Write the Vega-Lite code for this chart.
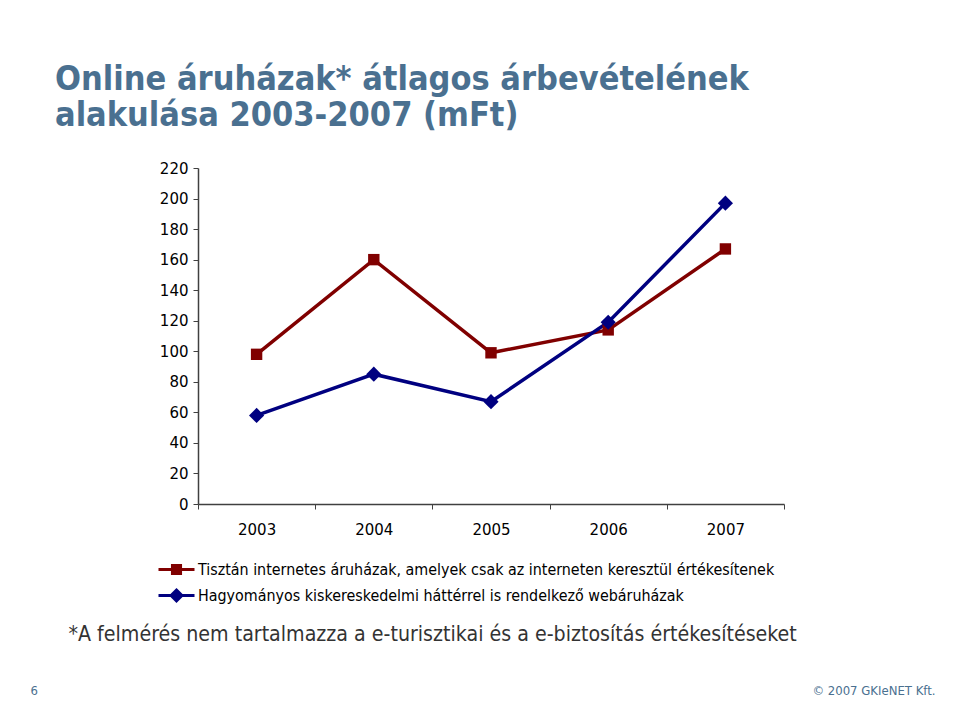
{
  "$schema": "https://vega.github.io/schema/vega-lite/v6.json",
  "autosize": {"type": "none"},
  "width": 586,
  "height": 336,
  "padding": {"left": 198, "top": 168, "right": 176, "bottom": 212},
  "background": "white",
  "title": {
    "text": ["Online áruházak* átlagos árbevételének", "alakulása 2003-2007 (mFt)"],
    "anchor": "start",
    "frame": "group",
    "font": "DejaVu Sans Condensed",
    "fontSize": 34,
    "fontWeight": "bold",
    "color": "#4a7090",
    "lineHeight": 36,
    "dx": -143,
    "offset": 28
  },
  "data": {
    "values": [
      {"year": "2003", "series": "Tisztán internetes áruházak, amelyek csak az interneten keresztül értékesítenek", "value": 98},
      {"year": "2004", "series": "Tisztán internetes áruházak, amelyek csak az interneten keresztül értékesítenek", "value": 160},
      {"year": "2005", "series": "Tisztán internetes áruházak, amelyek csak az interneten keresztül értékesítenek", "value": 99},
      {"year": "2006", "series": "Tisztán internetes áruházak, amelyek csak az interneten keresztül értékesítenek", "value": 114},
      {"year": "2007", "series": "Tisztán internetes áruházak, amelyek csak az interneten keresztül értékesítenek", "value": 167},
      {"year": "2003", "series": "Hagyományos kiskereskedelmi háttérrel is rendelkező webáruházak", "value": 58},
      {"year": "2004", "series": "Hagyományos kiskereskedelmi háttérrel is rendelkező webáruházak", "value": 85},
      {"year": "2005", "series": "Hagyományos kiskereskedelmi háttérrel is rendelkező webáruházak", "value": 67},
      {"year": "2006", "series": "Hagyományos kiskereskedelmi háttérrel is rendelkező webáruházak", "value": 119},
      {"year": "2007", "series": "Hagyományos kiskereskedelmi háttérrel is rendelkező webáruházak", "value": 197}
    ]
  },
  "encoding": {
    "y": {
      "field": "value", "type": "quantitative",
      "scale": {"domain": [0, 220], "nice": false},
      "axis": {
        "values": [0, 20, 40, 60, 80, 100, 120, 140, 160, 180, 200, 220],
        "labelOverlap": false,
        "labelFlush": false,
        "labelBound": false,
        "tickSize": 5,
        "labelPadding": 5,
        "labelFont": "DejaVu Sans",
        "labelFontSize": 15,
        "labelColor": "#000000",
        "domainColor": "#404040",
        "tickColor": "#404040",
        "domainWidth": 1.5,
        "grid": false,
        "title": "6",
        "titleAngle": 0,
        "titleAnchor": "start",
        "titleAlign": "left",
        "titleBaseline": "middle",
        "titleX": -168,
        "titleY": 522,
        "titleFont": "DejaVu Sans Condensed",
        "titleFontSize": 13,
        "titleFontWeight": "normal",
        "titleColor": "#4a7090"
      }
    },
    "color": {
      "field": "series", "type": "nominal",
      "scale": {
        "domain": ["Tisztán internetes áruházak, amelyek csak az interneten keresztül értékesítenek", "Hagyományos kiskereskedelmi háttérrel is rendelkező webáruházak"],
        "range": ["#800000", "#000080"]
      },
      "legend": {
        "orient": "none",
        "legendX": -32,
        "legendY": 391,
        "title": null,
        "symbolSize": 324,
        "labelFont": "DejaVu Sans Condensed",
        "labelFontSize": 15.9,
        "labelColor": "#000000",
        "labelLimit": 1000,
        "labelOffset": 11,
        "rowPadding": 4,
        "encode": {
          "symbols": {
            "update": {
              "shape": {"signal": "indexof(datum.value, 'Hagy') === 0 ? 'M-2,0H2M0,-0.6L0.6,0L0,0.6L-0.6,0Z' : 'M-2,0H2M-0.45,-0.45H0.45V0.45H-0.45Z'"},
              "fill": {"signal": "scale('color', datum.value)"},
              "stroke": {"signal": "scale('color', datum.value)"},
              "strokeWidth": {"value": 3},
              "opacity": {"value": 1}
            }
          }
        }
      }
    }
  },
  "layer": [
    {
      "mark": {"type": "line", "strokeWidth": 3.5},
      "encoding": {
        "x": {
          "field": "year", "type": "ordinal",
          "scale": {"type": "band", "paddingInner": 0, "paddingOuter": 0},
          "axis": {
            "orient": "bottom",
            "labelAngle": 0,
            "tickBand": "extent",
            "tickSize": 5,
            "labelPadding": 13,
            "labelFont": "DejaVu Sans",
            "labelFontSize": 15,
            "labelColor": "#000000",
            "domainColor": "#404040",
            "tickColor": "#404040",
            "domainWidth": 1.5,
            "grid": false,
            "title": "*A felmérés nem tartalmazza a e-turisztikai és a e-biztosítás értékesítéseket",
            "titleFont": "DejaVu Sans Condensed",
            "titleFontSize": 21.2,
            "titleFontWeight": "normal",
            "titleColor": "#333333",
            "titleAnchor": "start",
            "titleAlign": "left",
            "titleBaseline": "middle",
            "titleX": -130,
            "titleY": 130
          }
        }
      }
    },
    {
      "transform": [{"filter": "indexof(datum.series, 'Tiszt') === 0"}],
      "mark": {"type": "point", "filled": true, "opacity": 1, "shape": "square", "size": 130},
      "encoding": {
        "x": {"field": "year", "type": "ordinal", "axis": null}
      }
    },
    {
      "transform": [{"filter": "indexof(datum.series, 'Hagy') === 0"}],
      "mark": {"type": "point", "filled": true, "opacity": 1, "shape": "diamond", "size": 230},
      "encoding": {
        "x": {
          "field": "year", "type": "ordinal",
          "axis": {
            "orient": "top",
            "domain": false,
            "ticks": false,
            "labels": false,
            "grid": false,
            "title": "© 2007 GKIeNET Kft.",
            "titleAnchor": "start",
            "titleAlign": "right",
            "titleBaseline": "middle",
            "titleX": 737,
            "titleY": 522,
            "titleFont": "DejaVu Sans Condensed",
            "titleFontSize": 13,
            "titleFontWeight": "normal",
            "titleColor": "#4a7090"
          }
        }
      }
    }
  ],
  "resolve": {"axis": {"x": "independent"}},
  "config": {
    "view": {"stroke": null},
    "axisY": {"labelOverlap": false}
  }
}
